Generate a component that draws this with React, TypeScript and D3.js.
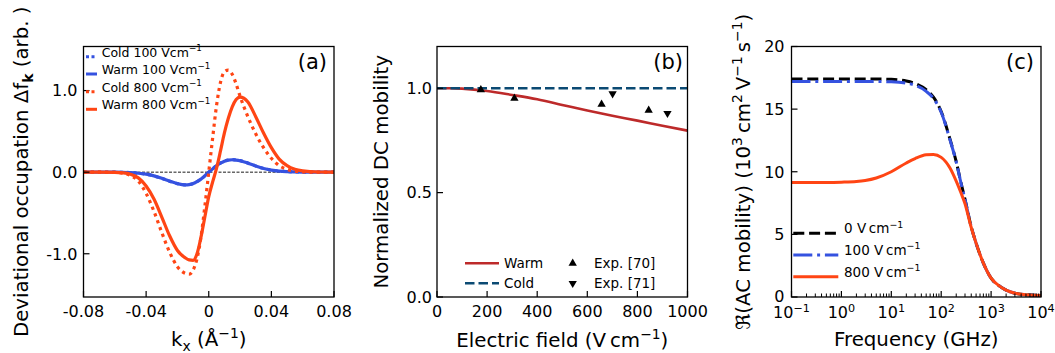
import React from 'react';
import * as d3 from 'd3';

const FONT = "'DejaVu Sans', sans-serif";
const ORANGE = '#ff4514';
const BLUE = '#3552e0';
const RED_B = '#bd2a2a';
const NAVY_B = '#0b4a73';

// ---------- Panel (a) data ----------
const kxGrid = [-0.08, -0.07, -0.06, -0.055, -0.05, -0.045, -0.04, -0.035, -0.03, -0.025, -0.02, -0.015, -0.0125, -0.01, -0.0075, -0.005, -0.0025, 0, 0.0025, 0.005, 0.0075, 0.01, 0.0125, 0.015, 0.0175, 0.02, 0.025, 0.03, 0.035, 0.04, 0.045, 0.05, 0.055, 0.06, 0.07, 0.08];
const dfCold100 = [0, 0, 0, -0.002, -0.006, -0.013, -0.025, -0.046, -0.076, -0.111, -0.141, -0.156, -0.153, -0.141, -0.116, -0.085, -0.045, 0, 0.04, 0.081, 0.111, 0.136, 0.149, 0.153, 0.149, 0.141, 0.111, 0.076, 0.046, 0.026, 0.013, 0.007, 0.003, 0.001, 0, 0];
const dfWarm100 = [0, 0, 0, -0.002, -0.006, -0.013, -0.025, -0.045, -0.075, -0.11, -0.14, -0.155, -0.152, -0.14, -0.115, -0.085, -0.045, 0, 0.04, 0.08, 0.11, 0.135, 0.148, 0.152, 0.148, 0.14, 0.11, 0.075, 0.045, 0.025, 0.012, 0.006, 0.003, 0.001, 0, 0];
const dfCold800 = [0, 0, -0.003, -0.012, -0.04, -0.11, -0.26, -0.48, -0.74, -0.98, -1.16, -1.24, -1.25, -1.2, -1.06, -0.8, -0.42, 0, 0.42, 0.82, 1.1, 1.23, 1.25, 1.2, 1.08, 0.93, 0.68, 0.47, 0.3, 0.17, 0.08, 0.035, 0.013, 0.004, 0, 0];
const dfWarm800 = [0, 0, -0.002, -0.008, -0.025, -0.07, -0.17, -0.33, -0.55, -0.78, -0.96, -1.05, -1.075, -1.08, -1.0, -0.8, -0.55, -0.3, -0.12, 0.05, 0.26, 0.48, 0.66, 0.8, 0.89, 0.92, 0.86, 0.68, 0.48, 0.3, 0.16, 0.08, 0.035, 0.015, 0.002, 0];
const kxTicks = [-0.08, -0.04, 0, 0.04, 0.08];
const kxTickLabels = ['-0.08', '-0.04', '0', '0.04', '0.08'];
const dfTicks = [-1, 0, 1];
const dfTickLabels = ['-1.0', '0.0', '1.0'];

// ---------- Panel (b) data ----------
const fieldWarm = [0, 50, 100, 200, 300, 400, 500, 600, 700, 800, 900, 1000];
const mobWarm = [1.0, 1.0, 0.998, 0.987, 0.968, 0.947, 0.92, 0.893, 0.868, 0.845, 0.82, 0.797];
const fieldCold = [0, 1000];
const mobCold = [1.0, 1.0];
const exp70Field = [175, 309, 657, 845];
const exp70Mob = [0.992, 0.952, 0.923, 0.894];
const exp71Field = [701, 920];
const exp71Mob = [0.974, 0.88];
const fieldTicks = [0, 200, 400, 600, 800, 1000];
const mobTicks = [0, 0.5, 1.0];
const mobTickLabels = ['0.0', '0.5', '1.0'];

// ---------- Panel (c) data ----------
const freqGHz = [0.1, 0.2, 0.5, 1, 2, 3, 5, 10, 20, 30, 50, 70, 100, 150, 200, 250, 300, 400, 500, 700, 1000, 1500, 2000, 3000, 5000, 10000];
const acMob0 = [17.4, 17.4, 17.4, 17.4, 17.4, 17.4, 17.4, 17.38, 17.25, 17.05, 16.55, 15.95, 14.8, 12.6, 10.8, 9.1, 7.8, 5.6, 4.3, 2.7, 1.5, 0.85, 0.55, 0.3, 0.18, 0.12];
const acMob100 = [17.2, 17.2, 17.2, 17.2, 17.2, 17.2, 17.2, 17.18, 17.08, 16.9, 16.42, 15.85, 14.75, 12.55, 10.78, 9.08, 7.78, 5.6, 4.3, 2.7, 1.5, 0.85, 0.55, 0.3, 0.18, 0.12];
const acMob800 = [9.15, 9.15, 9.15, 9.17, 9.22, 9.3, 9.5, 10.0, 10.7, 11.05, 11.35, 11.38, 11.15, 10.3, 9.25, 8.3, 7.45, 5.55, 4.3, 2.7, 1.5, 0.85, 0.55, 0.3, 0.18, 0.12];
const freqDecades = [-1, 0, 1, 2, 3, 4];
const acTicks = [0, 5, 10, 15, 20];

// ---------- helpers ----------
type Part = string | { s: string; sup?: boolean; sub?: boolean; bold?: boolean };
function rich(parts: Part[], fs: number, supLift = 0.42) {
  let cur = 0;
  return parts.map((p, i) => {
    if (typeof p === 'string') {
      const dy = -cur;
      cur = 0;
      return <tspan key={i} dy={dy}>{p}</tspan>;
    }
    const off = p.sup ? -supLift * fs : p.sub ? 0.24 * fs : 0;
    const dy = off - cur;
    cur = off;
    return (
      <tspan key={i} dy={dy} fontSize={fs * 0.7} fontWeight={p.bold ? 'bold' : 'normal'}>
        {p.s}
      </tspan>
    );
  });
}

const TICK_FS = 16;
const LABEL_FS = 19.8;
const PANEL_FS = 21;
const MAJ = 6;
const MINOR = 3.5;

const A = { l: 83.5, r: 334, t: 46.5, b: 297 };
const B = { l: 437, r: 687.5, t: 46.5, b: 297 };
const C = { l: 791.5, r: 1041, t: 46.5, b: 297 };

export default function App() {
  // ----- scales -----
  const xa = d3.scaleLinear().domain([-0.08, 0.08]).range([A.l, A.r]);
  const ya = d3.scaleLinear().domain([-1.53, 1.54]).range([A.b, A.t]);
  const lineA = (ys: number[]) =>
    d3.line<number>().x((_, i) => xa(kxGrid[i])).y((d) => ya(d)).curve(d3.curveMonotoneX)(ys) || '';

  const xb = d3.scaleLinear().domain([0, 1000]).range([B.l, B.r]);
  const yb = d3.scaleLinear().domain([0, 1.2]).range([B.b, B.t]);
  const lineB = (xs: number[], ys: number[]) =>
    d3.line<number>().x((_, i) => xb(xs[i])).y((d) => yb(d)).curve(d3.curveMonotoneX)(ys) || '';

  const xc = d3.scaleLog().domain([0.1, 1e4]).range([C.l, C.r]);
  const yc = d3.scaleLinear().domain([0, 20]).range([C.b, C.t]);
  const lineC = (ys: number[]) =>
    d3.line<number>().x((_, i) => xc(freqGHz[i])).y((d) => yc(d)).curve(d3.curveMonotoneX)(ys) || '';

  const triUp = d3.symbol().type(d3.symbolTriangle).size(30)() || '';

  const minorC: number[] = [];
  for (let d = -1; d < 4; d++) for (let m = 2; m <= 9; m++) minorC.push(m * Math.pow(10, d));

  const frame = (p: { l: number; r: number; t: number; b: number }) => (
    <rect x={p.l} y={p.t} width={p.r - p.l} height={p.b - p.t} fill="none" stroke="#000" strokeWidth={1.3} />
  );

  return (
    <svg
      width={1055}
      height={353}
      viewBox="0 0 1055 353"
      style={{ position: 'absolute', left: 0, top: 0, background: '#fff' }}
      fontFamily={FONT}
    >
      <rect x={0} y={0} width={1055} height={353} fill="#fff" />

      {/* ================= Panel (a) ================= */}
      <g>
        <line x1={A.l} x2={A.r} y1={ya(0)} y2={ya(0)} stroke="#000" strokeWidth={0.9} strokeDasharray="3,1.5" />
        <path d={lineA(dfCold100)} fill="none" stroke={BLUE} strokeWidth={3.2} strokeDasharray="3.2,4" />
        <path d={lineA(dfWarm100)} fill="none" stroke={BLUE} strokeWidth={3.2} />
        <path d={lineA(dfCold800)} fill="none" stroke={ORANGE} strokeWidth={3.2} strokeDasharray="3.2,4" />
        <path d={lineA(dfWarm800)} fill="none" stroke={ORANGE} strokeWidth={3.2} />
        {frame(A)}
        {kxTicks.map((t, i) => (
          <g key={'ax' + i}>
            <line x1={xa(t)} x2={xa(t)} y1={A.b} y2={A.b - MAJ} stroke="#000" strokeWidth={1.2} />
            <text x={xa(t)} y={A.b + 20} fontSize={TICK_FS} textAnchor="middle">{kxTickLabels[i]}</text>
          </g>
        ))}
        {dfTicks.map((t, i) => (
          <g key={'ay' + i}>
            <line x1={A.l} x2={A.l + MAJ} y1={ya(t)} y2={ya(t)} stroke="#000" strokeWidth={1.2} />
            <text x={A.l - 6} y={ya(t)} dy="0.36em" fontSize={TICK_FS} textAnchor="end">{dfTickLabels[i]}</text>
          </g>
        ))}
        <text x={(A.l + A.r) / 2} y={346} fontSize={LABEL_FS} textAnchor="middle">
          {rich(['k', { s: 'x', sub: true }, ' (Å', { s: '−1', sup: true }, ')'], LABEL_FS)}
        </text>
        <text transform={`translate(28,${(A.t + A.b) / 2}) rotate(-90)`} fontSize={LABEL_FS} textAnchor="middle">
          {rich(['Deviational occupation Δf', { s: 'k', sub: true, bold: true }, ' (arb. )'], LABEL_FS)}
        </text>
        <text x={327} y={69} fontSize={PANEL_FS} textAnchor="end">(a)</text>
        {/* legend */}
        {[
          { label: 'Cold 100 Vcm', color: BLUE, dash: '3,2.5', y: 56.7 },
          { label: 'Warm 100 Vcm', color: BLUE, dash: '', y: 74 },
          { label: 'Cold 800 Vcm', color: ORANGE, dash: '3,2.5', y: 91.7 },
          { label: 'Warm 800 Vcm', color: ORANGE, dash: '', y: 109.3 },
        ].map((e, i) => (
          <g key={'al' + i}>
            <line x1={86} x2={97} y1={e.y} y2={e.y} stroke={e.color} strokeWidth={3} strokeDasharray={e.dash || undefined} />
            <text x={101.7} y={e.y} dy="0.36em" fontSize={12.5}>
              {rich([e.label, { s: '−1', sup: true }], 12.5)}
            </text>
          </g>
        ))}
      </g>

      {/* ================= Panel (b) ================= */}
      <g>
        <path d={lineB(fieldWarm, mobWarm)} fill="none" stroke={RED_B} strokeWidth={2.6} />
        <path d={lineB(fieldCold, mobCold)} fill="none" stroke={NAVY_B} strokeWidth={2.6} strokeDasharray="9.5,4" />
        {exp70Field.map((f, i) => (
          <path key={'e70' + i} d={triUp} transform={`translate(${xb(f)},${yb(exp70Mob[i])})`} fill="#000" />
        ))}
        {exp71Field.map((f, i) => (
          <path key={'e71' + i} d={triUp} transform={`translate(${xb(f)},${yb(exp71Mob[i])}) rotate(180)`} fill="#000" />
        ))}
        {frame(B)}
        {fieldTicks.map((t, i) => (
          <g key={'bx' + i}>
            <line x1={xb(t)} x2={xb(t)} y1={B.b} y2={B.b - MAJ} stroke="#000" strokeWidth={1.2} />
            <text x={xb(t)} y={B.b + 20} fontSize={TICK_FS} textAnchor="middle">{String(t)}</text>
          </g>
        ))}
        {mobTicks.map((t, i) => (
          <g key={'by' + i}>
            <line x1={B.l} x2={B.l + MAJ} y1={yb(t)} y2={yb(t)} stroke="#000" strokeWidth={1.2} />
            <text x={B.l - 5} y={yb(t)} dy="0.36em" fontSize={TICK_FS} textAnchor="end">{mobTickLabels[i]}</text>
          </g>
        ))}
        <text x={(B.l + B.r) / 2} y={347} fontSize={LABEL_FS} textAnchor="middle">
          {rich(['Electric field (V\u2009cm', { s: '−1', sup: true }, ')'], LABEL_FS)}
        </text>
        <text transform={`translate(387.5,${(B.t + B.b) / 2}) rotate(-90)`} fontSize={LABEL_FS} textAnchor="middle">
          Normalized DC mobility
        </text>
        <text x={683} y={69} fontSize={PANEL_FS} textAnchor="end">(b)</text>
        {/* legend */}
        <line x1={465} x2={499} y1={263.3} y2={263.3} stroke={RED_B} strokeWidth={2.6} />
        <text x={504} y={263.3} dy="0.36em" fontSize={13.5}>Warm</text>
        <line x1={465} x2={499} y1={283.3} y2={283.3} stroke={NAVY_B} strokeWidth={2.6} strokeDasharray="9.5,4" />
        <text x={504} y={283.3} dy="0.36em" fontSize={13.5}>Cold</text>
        <path d={triUp} transform={`translate(572.7,263.3)`} fill="#000" />
        <text x={594} y={263.3} dy="0.36em" fontSize={13.5}>Exp. [70]</text>
        <path d={triUp} transform={`translate(572.7,283.3) rotate(180)`} fill="#000" />
        <text x={594} y={283.3} dy="0.36em" fontSize={13.5}>Exp. [71]</text>
      </g>

      {/* ================= Panel (c) ================= */}
      <g>
        <path d={lineC(acMob0)} fill="none" stroke="#000" strokeWidth={3} strokeDasharray="11,4.8" />
        <path d={lineC(acMob100)} fill="none" stroke={BLUE} strokeWidth={3} strokeDasharray="19,4.8,3,4.8" />
        <path d={lineC(acMob800)} fill="none" stroke={ORANGE} strokeWidth={3} />
        {frame(C)}
        {minorC.map((t, i) => (
          <line key={'cm' + i} x1={xc(t)} x2={xc(t)} y1={C.b} y2={C.b - MINOR} stroke="#000" strokeWidth={1} />
        ))}
        {freqDecades.map((d, i) => (
          <g key={'cx' + i}>
            <line x1={xc(Math.pow(10, d))} x2={xc(Math.pow(10, d))} y1={C.b} y2={C.b - MAJ} stroke="#000" strokeWidth={1.2} />
            <text x={xc(Math.pow(10, d))} y={C.b + 20.5} fontSize={TICK_FS} textAnchor="middle">
              {rich(['10', { s: d < 0 ? '−' + Math.abs(d) : String(d), sup: true }], TICK_FS, 0.36)}
            </text>
          </g>
        ))}
        {acTicks.map((t, i) => (
          <g key={'cy' + i}>
            <line x1={C.l} x2={C.l + MAJ} y1={yc(t)} y2={yc(t)} stroke="#000" strokeWidth={1.2} />
            <text x={C.l - 7} y={yc(t) - (t === 0 ? 1 : 0)} dy="0.36em" fontSize={TICK_FS} textAnchor="end">{String(t)}</text>
          </g>
        ))}
        <text x={(C.l + C.r) / 2} y={346} fontSize={LABEL_FS} textAnchor="middle">Frequency (GHz)</text>
        <text transform={`translate(750,${(C.t + C.b) / 2}) rotate(-90)`} fontSize={LABEL_FS} textAnchor="middle">
          {rich([
            'ℜ(AC mobility) (10', { s: '3', sup: true }, '\u2009cm', { s: '2', sup: true }, '\u2009V',
            { s: '−1', sup: true }, '\u2009s', { s: '−1', sup: true }, ')',
          ], LABEL_FS)}
        </text>
        <text x={1034} y={69} fontSize={PANEL_FS} textAnchor="end">(c)</text>
        {/* legend */}
        {[
          { label: '0', color: '#000', dash: '11,4.8', y: 233.3 },
          { label: '100', color: BLUE, dash: '19,4.8,3,4.8', y: 255 },
          { label: '800', color: ORANGE, dash: '', y: 276.7 },
        ].map((e, i) => (
          <g key={'cl' + i}>
            <line x1={793.3} x2={838.3} y1={e.y} y2={e.y} stroke={e.color} strokeWidth={3} strokeDasharray={e.dash || undefined} />
            <text x={844} y={e.y} dy="0.36em" fontSize={13.5}>
              {rich([e.label + ' V\u2009cm', { s: '−1', sup: true }], 13.5)}
            </text>
          </g>
        ))}
      </g>
    </svg>
  );
}
